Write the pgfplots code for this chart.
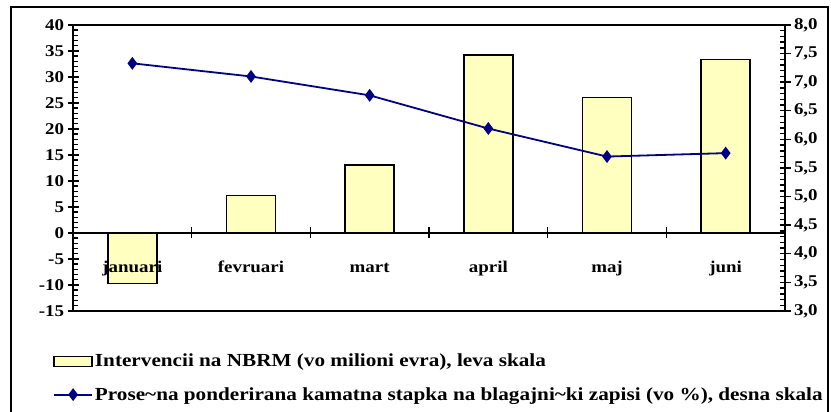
\documentclass[border=0pt]{standalone}
\usepackage{fontspec}
\setmainfont{Liberation Serif}[FakeStretch=1.15]
\usepackage{pgfplots}
\pgfplotsset{compat=1.18}
\definecolor{baryellow}{RGB}{255,255,192}
\definecolor{navyline}{RGB}{0,0,128}
\pgfplotsset{
  barleg/.style={legend image code/.code={\draw[##1] (0bp,-5bp) rectangle (38bp,5bp);}},
  lineleg/.style={legend image code/.code={\draw[mark repeat=2,mark phase=2,##1] plot coordinates {(0bp,0bp) (19bp,0bp) (38bp,0bp)};}},
}
\newcommand\tickfont{\fontsize{16.5}{16.5}\selectfont\bfseries}
\newcommand\legfont{\fontsize{18.5}{18.5}\selectfont\bfseries}
\newcommand\T[1]{{\tickfont #1}}
\begin{document}
\begin{tikzpicture}
\path[use as bounding box] (0,0) rectangle (831bp,412bp);
\draw[line width=1.8bp] (11bp,-10bp) rectangle (828bp,405bp);
\pgfplotsset{
  common/.style={
    scale only axis, width=712bp, height=286bp,
    at={(73bp,101bp)}, anchor=south west,
    xmin=-0.5, xmax=5.5,
    /pgf/number format/assume math mode=true,
    tick label style={font=\tickfont},
    axis line style={line width=1.6bp},
    tick style={line width=1.4bp, black},
  }
}
\begin{axis}[common,
  axis on top,
  ymin=-15, ymax=40, ytick={-15,-10,-5,0,5,10,15,20,25,30,35,40},
  yticklabels={\T{-15},\T{-10},\T{-5},\T{0},\T{5},\T{10},\T{15},\T{20},\T{25},\T{30},\T{35},\T{40}},
  minor y tick num=4,
  axis y line*=left, axis x line*=middle,
  hide obscured x ticks=false, hide obscured y ticks=false,
  tick align=center, major tick length=11bp, minor tick length=5bp,
  every minor y tick/.append style={xshift=2.5bp},
  xtick={0.5,1.5,2.5,3.5,4.5}, xticklabels={},
  extra x ticks={0,1,2,3,4,5},
  extra x tick labels={januari,fevruari,mart,april,maj,juni},
  extra x tick style={major tick style={draw=none}, xticklabel style={anchor=base, yshift=-34bp}},
]
\addplot[ybar, bar width=49bp, fill=baryellow, draw=black, line width=1.4bp] coordinates {(0,-9.7) (1,7.25) (2,13.1) (3,34.2) (4,26.1) (5,33.4)};
\end{axis}
\begin{axis}[common,
  ymin=3, ymax=8, ytick={3,3.5,4,4.5,5,5.5,6,6.5,7,7.5,8},
  yticklabels={\T{3,0},\T{3,5},\T{4,0},\T{4,5},\T{5,0},\T{5,5},\T{6,0},\T{6,5},\T{7,0},\T{7,5},\T{8,0}},
  minor y tick num=4,
  axis y line*=right, axis x line*=box,
  xtick=\empty,
  tick align=center, major tick length=11bp, minor tick length=5bp,
  every minor y tick/.append style={xshift=-2.5bp},
  legend style={at={(axis description cs:0,0)}, anchor=north west, xshift=-20bp, yshift=-41bp,
    draw=none, fill=none, font=\legfont, row sep=15bp,
    inner sep=0pt, nodes={inner sep=2bp}},
  legend cell align=left,
]
\addlegendimage{fill=baryellow, draw=black, line width=1.4bp, barleg}
\addlegendentry{\legfont Intervencii na NBRM (vo milioni evra), leva skala}
\addplot[navyline, line width=1.8bp, mark=diamond*, mark size=5bp, lineleg]
  coordinates {(0,7.33) (1,7.10) (2,6.77) (3,6.19) (4,5.70) (5,5.76)};
\addlegendentry{\legfont Prose\textasciitilde na ponderirana kamatna stapka na blagajni\textasciitilde ki zapisi (vo \%), desna skala}
\end{axis}
\end{tikzpicture}
\end{document}
